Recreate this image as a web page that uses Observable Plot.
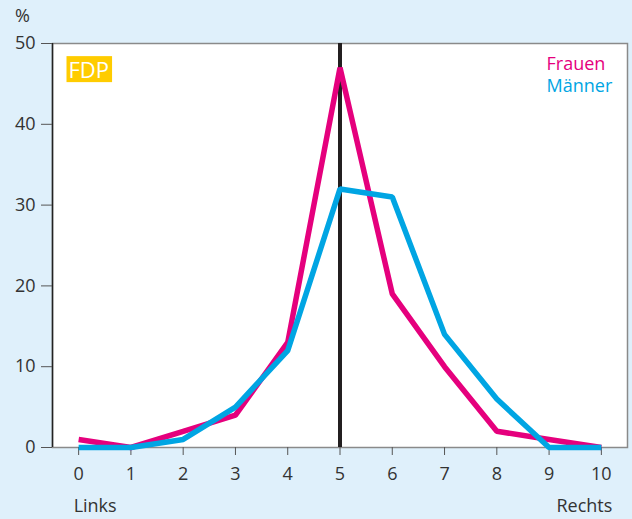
<!DOCTYPE html>
<html>
<head>
<meta charset="utf-8">
<script src="https://cdn.jsdelivr.net/npm/d3@7"></script>
<script src="https://cdn.jsdelivr.net/npm/@observablehq/plot@0.6"></script>
<style>
  html, body { margin: 0; padding: 0; background: #dff0fb; }
  #chart svg { display: block; }
</style>
</head>
<body>
<div id="chart"></div>
<script>
const positions = [0, 1, 2, 3, 4, 5, 6, 7, 8, 9, 10];
const frauen = [1, 0, 2, 4, 13, 47, 19, 10, 2, 1, 0];
const maenner = [0, 0, 1, 5, 12, 32, 31, 14, 6, 0, 0];
const yTicks = [0, 10, 20, 30, 40, 50];
const seriesNames = ["Frauen", "Männer"];
const seriesColors = ["#e5007d", "#00a5e3"];
const partyLabel = "FDP";
const centerValue = 5;
const leftLabel = "Links";
const rightLabel = "Rechts";
const unitLabel = "%";

const data = [
  ...positions.map((p, i) => ({x: p, y: frauen[i], s: seriesNames[0]})),
  ...positions.map((p, i) => ({x: p, y: maenner[i], s: seriesNames[1]}))
];
const font = "'Open Sans', sans-serif";
const fs = 18;

const chart = Plot.plot({
  width: 632,
  height: 519,
  marginLeft: 52,
  marginRight: 5,
  marginTop: 43,
  marginBottom: 72,
  style: {background: "#dff0fb", fontFamily: font, fontSize: fs + "px", color: "#333", overflow: "visible"},
  x: {domain: [-0.5, 10.5], ticks: positions, label: null},
  y: {domain: [0, 50], ticks: yTicks, label: null},
  color: {domain: seriesNames, range: seriesColors},
  marks: [
    Plot.frame({fill: "white", stroke: "#8a8a8a", strokeWidth: 1.5}),
    Plot.ruleX([-0.5], {stroke: "#222", strokeWidth: 1.5}),
    Plot.axisY({ticks: yTicks, tickSize: 11, tickPadding: 6, stroke: "#555", fill: "#333", fontSize: fs}),
    Plot.axisX({ticks: positions, tickSize: 8, tickPadding: 12, stroke: "#555", fill: "#333", fontSize: fs}),
    Plot.ruleX([centerValue], {y1: 0, y2: 50, stroke: "#231f20", strokeWidth: 4}),
    Plot.line(data, {x: "x", y: "y", z: "s", stroke: "s", strokeWidth: 5.5, strokeLinejoin: "miter", strokeLinecap: "butt"}),
    Plot.text([seriesNames[0]], {frameAnchor: "top-right", textAnchor: "start", dx: -81, dy: 14, fill: seriesColors[0], fontSize: fs}),
    Plot.text([seriesNames[1]], {frameAnchor: "top-right", textAnchor: "start", dx: -81, dy: 36, fill: seriesColors[1], fontSize: fs}),
    Plot.text([{x: positions[0], t: leftLabel}], {x: "x", text: "t", frameAnchor: "bottom", textAnchor: "start", dx: -5, dy: 64, fill: "#333", fontSize: fs}),
    Plot.text([{x: positions[positions.length - 1], t: rightLabel}], {x: "x", text: "t", frameAnchor: "bottom", textAnchor: "end", dx: 11, dy: 64, fill: "#333", fontSize: fs}),
    Plot.text([unitLabel], {frameAnchor: "top-left", dx: -30, dy: -34, textAnchor: "middle", fill: "#333", fontSize: fs}),
    Plot.text([partyLabel], {frameAnchor: "top-left", dx: 16, dy: 19, textAnchor: "start", fill: "white", fontSize: 22, className: "party"})
  ]
});
document.getElementById("chart").appendChild(chart);

// FDP yellow box behind the label
const party = chart.querySelector("g.party text");
if (party) {
  const bb = party.getBBox();
  const ctm = party.getAttribute("transform") || "";
  const cy = bb.y + bb.height / 2;
  d3.select(party.parentNode).insert("rect", "text")
    .attr("transform", ctm)
    .attr("x", bb.x - 2).attr("y", cy - 13)
    .attr("width", bb.width + 5).attr("height", 26)
    .attr("fill", "#ffcc00");
}
</script>
</body>
</html>
